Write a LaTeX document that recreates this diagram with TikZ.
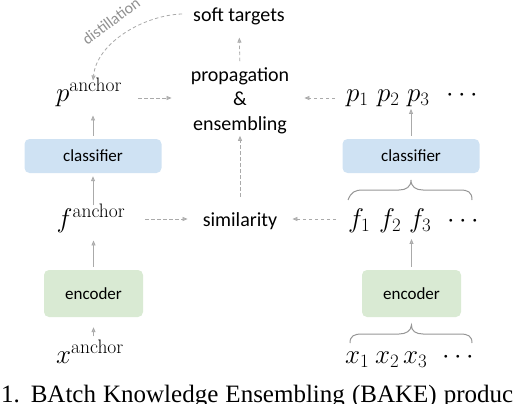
\RequirePackage{fix-cm}
\documentclass[tikz,border=0pt]{standalone}
\usepackage{fontspec}
\newfontfamily\carl{Carlito}
\newfontfamily\capfont{Liberation Serif}
\usetikzlibrary{arrows.meta,calc}
\definecolor{arrgray}{RGB}{170,170,170}
\definecolor{clsfill}{RGB}{207,226,243}
\definecolor{encfill}{RGB}{217,234,211}
\definecolor{bracegray}{RGB}{150,150,150}
\newcommand{\anc}{\mbox{\fontsize{19.5}{20}\selectfont anchor}}
\tikzset{
  lbl/.style={inner sep=0pt, font=\carl\fontsize{20}{24.5}\selectfont},
  mth/.style={inner sep=0pt, font=\fontsize{27}{30}\selectfont},
  boxlbl/.style={rounded corners=5pt, inner sep=0pt, font=\carl\fontsize{17}{20}\selectfont},
  clsbox/.style={boxlbl, fill=clsfill, minimum width=137pt, minimum height=34pt},
  encbox/.style={boxlbl, fill=encfill, minimum width=99pt, minimum height=47pt},
  arr/.style={-{Triangle[length=5pt,width=4pt,fill=arrgray!70]}, draw=arrgray, line width=0.8pt},
  darr/.style={arr, dash pattern=on 3.5pt off 2.5pt},
  brc/.style={draw=bracegray, line width=1pt},
}
\begin{document}
\begin{tikzpicture}[x=1pt,y=-1pt]
\useasboundingbox (0,0) rectangle (514,404);
\clip (0,0) rectangle (514,404);
% boxes
\node[clsbox] (clsL) at (93,156) {classifier};
\node[clsbox] (clsR) at (411,156) {classifier};
\node[encbox] (encL) at (93.5,293.5) {encoder};
\node[encbox] (encR) at (411.5,293.5) {encoder};
% labels
\node[lbl, anchor=base] (soft) at (239,22) {soft targets};
\node[lbl, align=center] (prop) at (240,100.5) {propagation\\\&\\ensembling};
\node[lbl, anchor=base] (sim) at (240,226) {similarity};
% math
\node[mth, anchor=base] (panc) at (89,101) {$p^{\anc}$};
\node[mth, anchor=base] (fanc) at (91,227) {$f^{\anc}$};
\node[mth, anchor=base] (xanc) at (90,363) {$x^{\anc}$};
\node[mth, anchor=base west] (p1) at (346,101) {$p_1$};
\node[mth, anchor=base west] (p2) at (377,101) {$p_2$};
\node[mth, anchor=base west] (p3) at (407,101) {$p_3$};
\node[mth, anchor=base west] (pd) at (446,101) {$\cdots$};
\node[mth, anchor=base west] (f1) at (348,227) {$f_1$};
\node[mth, anchor=base west] (f2) at (379,227) {$f_2$};
\node[mth, anchor=base west] (f3) at (409,227) {$f_3$};
\node[mth, anchor=base west] (fd) at (447,227) {$\cdots$};
\node[mth, anchor=base west] (x1) at (345,363) {$x_1$};
\node[mth, anchor=base west] (x2) at (375,363) {$x_2$};
\node[mth, anchor=base west] (x3) at (403,363) {$x_3$};
\node[mth, anchor=base west] (xd) at (442,363) {$\cdots$};
% caption
\node[inner sep=0pt, anchor=base west, font=\capfont\fontsize{25}{28}\selectfont] (cap) at (1,402)
  {\makebox[512pt][s]{1. BAtch Knowledge Ensembling (BAKE) produc}};
% row helpers
\coordinate (rowp) at (0,98);
\coordinate (rowf) at (0,219);
% solid arrows left
\draw[arr, shorten <=3pt, shorten >=10pt] (xanc.north -| encL.south) -- (encL.south);
\draw[arr, shorten <=3pt, shorten >=8pt] (encL.north) -- (encL.north |- fanc.south);
\draw[arr, shorten <=-2pt, shorten >=3pt] (fanc.north -| clsL.south) -- (clsL.south);
\draw[arr, shorten <=3pt, shorten >=9pt] (clsL.north) -- (clsL.north |- panc.south);
% solid arrows right
\draw[arr, shorten <=3pt, shorten >=6.5pt] (encR.north) -- (encR.north |- f3.south);
\draw[arr, shorten <=3pt, shorten >=2.5pt] (clsR.north) -- (clsR.north |- p3.south);
% dashed arrows
\draw[darr, shorten <=16pt, shorten >=19pt] (panc.east |- rowp) -- (prop.west |- rowp);
\draw[darr, shorten <=11pt, shorten >=15pt] (p1.west |- rowp) -- (prop.east |- rowp);
\draw[darr, shorten <=6pt, shorten >=12pt] (prop.north) -- (soft.south);
\draw[darr, shorten <=15pt, shorten >=2pt] (sim.north) -- (prop.south);
\draw[darr, shorten <=20pt, shorten >=15pt] (fanc.east |- rowf) -- (sim.west |- rowf);
\draw[darr, shorten <=12pt, shorten >=15pt] (f1.west |- rowf) -- (sim.east |- rowf);
% distillation
\draw[darr] ([xshift=-11pt]soft.west |- 0,14) .. controls (145,15) and (97,42) .. ([yshift=-3pt]clsL.north |- panc.north);
\node[inner sep=0pt, rotate=37, text=arrgray!85!black, font=\carl\fontsize{16}{18}\selectfont] (dist) at (111,21) {distillation};
% braces
\draw[brc] (f1.north west |- 0,200) .. controls (351,192) and (355,190) .. (363,190) -- (399,190)
  .. controls (406,190) and (411,187) .. (clsR.south |- 0,180) .. controls (411,187) and (416,190) .. (423,190)
  -- (460,190) .. controls (468,190) and (472,192) .. (472,200);
\draw[brc] (350,343) .. controls (350,336) and (354,334) .. (362,334) -- (399,334)
  .. controls (406,334) and (411,331) .. (encR.south |- 0,325) .. controls (411,331) and (416,334) .. (423,334)
  -- (460,334) .. controls (468,334) and (472,336) .. (472,343);
\end{tikzpicture}
\end{document}
